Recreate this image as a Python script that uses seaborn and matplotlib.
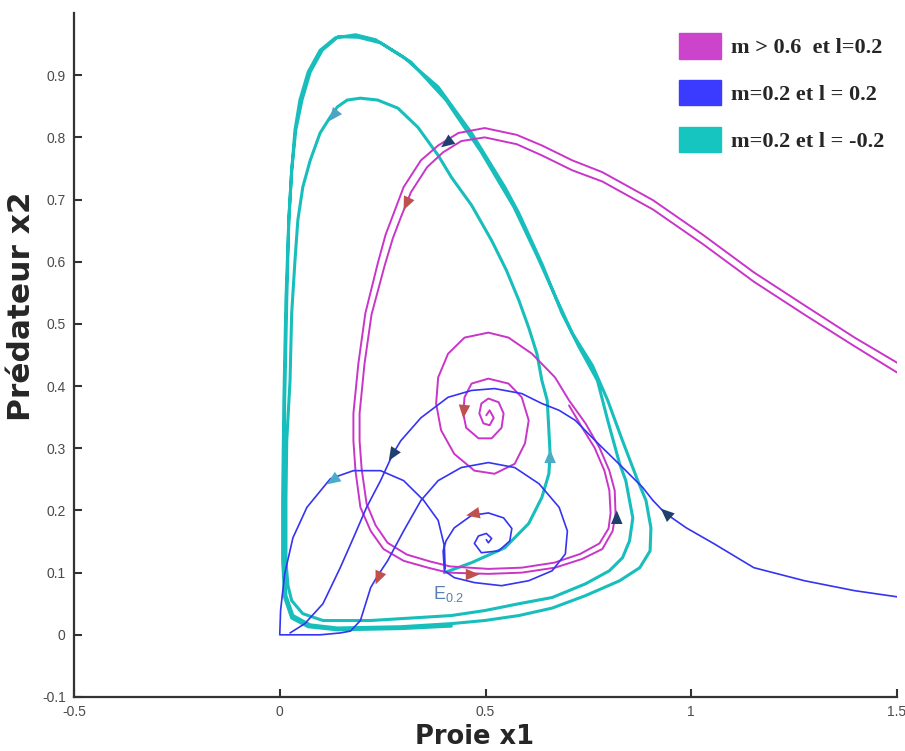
import matplotlib
matplotlib.use("Agg")
import matplotlib.pyplot as plt
import seaborn as sns
from matplotlib.patches import Patch

# --- data (x1 = proie, x2 = predateur) ---
mag_out_x = [1.512, 1.397, 1.275, 1.152, 1.029, 0.907, 0.784, 0.711, 0.637, 0.576, 0.498, 0.434, 0.385, 0.343,
             0.301, 0.277, 0.257, 0.238, 0.208, 0.191, 0.179, 0.179, 0.184, 0.196, 0.221, 0.252, 0.301, 0.360,
             0.409, 0.507, 0.588, 0.669, 0.735, 0.784, 0.809, 0.816, 0.814, 0.801, 0.777, 0.743, 0.703, 0.669,
             0.613, 0.556, 0.507, 0.449, 0.409, 0.385, 0.380, 0.392, 0.424, 0.473, 0.522, 0.571, 0.596, 0.605,
             0.588, 0.556, 0.507, 0.466, 0.449, 0.446, 0.453, 0.483, 0.515, 0.539, 0.544, 0.532, 0.507, 0.490,
             0.485, 0.495, 0.510, 0.520, 0.510, 0.502]
mag_out_y = [0.433, 0.478, 0.530, 0.583, 0.643, 0.699, 0.744, 0.763, 0.787, 0.804, 0.815, 0.807, 0.787, 0.763,
             0.720, 0.678, 0.643, 0.597, 0.517, 0.436, 0.356, 0.312, 0.264, 0.205, 0.167, 0.138, 0.119, 0.108,
             0.100, 0.098, 0.100, 0.108, 0.122, 0.138, 0.167, 0.195, 0.232, 0.264, 0.301, 0.340, 0.377, 0.414,
             0.452, 0.478, 0.486, 0.478, 0.452, 0.414, 0.372, 0.329, 0.291, 0.264, 0.259, 0.275, 0.308, 0.345,
             0.382, 0.404, 0.412, 0.404, 0.382, 0.356, 0.333, 0.316, 0.316, 0.333, 0.356, 0.374, 0.380, 0.372,
             0.356, 0.340, 0.337, 0.349, 0.361, 0.353]

mag_in_x = [1.512, 1.397, 1.275, 1.152, 1.029, 0.907, 0.784, 0.711, 0.637, 0.576, 0.498, 0.441, 0.397, 0.358,
            0.319, 0.294, 0.275, 0.255, 0.223, 0.206, 0.194, 0.194, 0.199, 0.211, 0.233, 0.262, 0.309, 0.365,
            0.414, 0.507, 0.588, 0.667, 0.730, 0.777, 0.799, 0.804, 0.801, 0.789, 0.765, 0.735, 0.703]
mag_in_y = [0.417, 0.464, 0.515, 0.568, 0.628, 0.684, 0.729, 0.747, 0.771, 0.789, 0.800, 0.794, 0.776, 0.752,
            0.712, 0.671, 0.638, 0.594, 0.515, 0.436, 0.356, 0.312, 0.267, 0.211, 0.176, 0.148, 0.129, 0.118,
            0.110, 0.106, 0.108, 0.116, 0.130, 0.147, 0.171, 0.196, 0.232, 0.264, 0.301, 0.333, 0.369]

blue_a_x = [1.512, 1.397, 1.275, 1.152, 1.054, 0.988, 0.936, 0.907, 0.882, 0.841, 0.767, 0.718, 0.679, 0.637,
            0.588, 0.522, 0.466, 0.409, 0.343, 0.294, 0.275, 0.245, 0.211, 0.179, 0.147, 0.105, 0.061, 0.025]
blue_a_y = [0.060, 0.071, 0.087, 0.108, 0.147, 0.172, 0.196, 0.216, 0.237, 0.264, 0.312, 0.345, 0.361, 0.372,
            0.388, 0.396, 0.393, 0.382, 0.349, 0.312, 0.291, 0.248, 0.205, 0.156, 0.108, 0.050, 0.018, 0.003]

blue_b_x = [0.402, 0.400, 0.385, 0.350, 0.301, 0.245, 0.179, 0.123, 0.066, 0.032, 0.012, 0.002, 0.000, 0.025,
            0.098, 0.147, 0.172, 0.196, 0.221, 0.238, 0.262, 0.301, 0.343, 0.385, 0.441, 0.507, 0.571, 0.630,
            0.679, 0.699, 0.694, 0.662, 0.605, 0.539, 0.473, 0.424, 0.400, 0.397, 0.404, 0.424, 0.466, 0.507,
            0.544, 0.564, 0.559, 0.532, 0.490, 0.473, 0.483, 0.502, 0.515, 0.507, 0.502]
blue_b_y = [0.106, 0.143, 0.184, 0.216, 0.248, 0.264, 0.264, 0.251, 0.205, 0.156, 0.098, 0.039, 0.000, 0.000,
            0.000, 0.003, 0.006, 0.023, 0.076, 0.095, 0.119, 0.167, 0.216, 0.248, 0.269, 0.277, 0.269, 0.243,
            0.205, 0.167, 0.130, 0.103, 0.087, 0.079, 0.084, 0.092, 0.103, 0.135, 0.151, 0.172, 0.192, 0.196,
            0.188, 0.171, 0.151, 0.135, 0.132, 0.147, 0.159, 0.163, 0.155, 0.148, 0.153]

teal_x = [0.400, 0.466, 0.547, 0.605, 0.637, 0.654, 0.657, 0.654, 0.650, 0.637, 0.625, 0.605, 0.581, 0.551,
          0.515, 0.466, 0.417, 0.385, 0.336, 0.287, 0.238, 0.196, 0.164, 0.140, 0.123, 0.098, 0.074, 0.056,
          0.044, 0.037, 0.029, 0.025, 0.017, 0.015, 0.015, 0.020, 0.029, 0.056, 0.105, 0.221, 0.417, 0.498,
          0.581, 0.662, 0.743, 0.801, 0.833, 0.850, 0.858, 0.850, 0.841, 0.826, 0.797, 0.772, 0.728, 0.686,
          0.637, 0.581, 0.547, 0.466, 0.385, 0.301, 0.233, 0.184, 0.135, 0.098, 0.069, 0.049, 0.037, 0.029,
          0.022, 0.017, 0.012, 0.010, 0.010, 0.015, 0.032, 0.074, 0.140, 0.294, 0.417, 0.498, 0.581, 0.662,
          0.743, 0.826, 0.875, 0.900, 0.902, 0.890, 0.870, 0.833, 0.797, 0.760, 0.711, 0.674, 0.625, 0.569,
          0.490, 0.404, 0.319, 0.245, 0.191, 0.142, 0.103, 0.074, 0.054, 0.039, 0.029, 0.022, 0.015, 0.010,
          0.007, 0.007, 0.012, 0.029, 0.069, 0.140, 0.294, 0.417]
teal_y = [0.100, 0.116, 0.140, 0.179, 0.221, 0.259, 0.291, 0.329, 0.377, 0.409, 0.452, 0.494, 0.538, 0.586,
          0.634, 0.691, 0.736, 0.771, 0.816, 0.847, 0.860, 0.863, 0.860, 0.849, 0.833, 0.807, 0.763, 0.720,
          0.667, 0.602, 0.517, 0.409, 0.312, 0.216, 0.119, 0.079, 0.055, 0.034, 0.023, 0.023, 0.031, 0.039,
          0.050, 0.060, 0.082, 0.103, 0.124, 0.151, 0.188, 0.216, 0.248, 0.275, 0.345, 0.409, 0.462, 0.517,
          0.597, 0.678, 0.720, 0.807, 0.881, 0.929, 0.957, 0.965, 0.960, 0.940, 0.905, 0.860, 0.812, 0.747,
          0.667, 0.538, 0.377, 0.216, 0.119, 0.063, 0.031, 0.016, 0.011, 0.013, 0.018, 0.023, 0.031, 0.043,
          0.063, 0.087, 0.108, 0.135, 0.172, 0.216, 0.248, 0.312, 0.377, 0.433, 0.485, 0.538, 0.610, 0.688,
          0.776, 0.860, 0.921, 0.952, 0.961, 0.962, 0.940, 0.905, 0.860, 0.812, 0.747, 0.667, 0.538, 0.377,
          0.216, 0.119, 0.060, 0.027, 0.013, 0.008, 0.010, 0.014]

# direction arrows: a point just behind the head (x0, y0) -> arrow tip (x1, y1)
arr_x0 = [0.145, 0.422, 0.314, 0.449, 0.451, 0.819, 0.284, 0.145, 0.657, 0.483, 0.245, 0.951]
arr_y0 = [0.847, 0.799, 0.702, 0.370, 0.097, 0.177, 0.300, 0.256, 0.275, 0.196, 0.100, 0.188]
arr_x1 = [0.120, 0.392, 0.301, 0.446, 0.485, 0.819, 0.265, 0.115, 0.657, 0.453, 0.233, 0.926]
arr_y1 = [0.826, 0.784, 0.683, 0.348, 0.097, 0.200, 0.280, 0.242, 0.298, 0.192, 0.081, 0.203]
arr_col = ['#4BA3C6', '#1F3F6E', '#C0504D', '#C0504D', '#C0504D', '#1F3F6E',
           '#1F3F6E', '#4BACC6', '#4BACC6', '#C0504D', '#C0504D', '#1F3F6E']

legend_labels = ['m > 0.6  et l=0.2', 'm=0.2 et l = 0.2', 'm=0.2 et l = -0.2']
legend_colors = ['#CC44CC', '#3B3BFF', '#16C4C0']

x_ticks = [-0.5, 0, 0.5, 1, 1.5]
x_ticklabels = ['-0.5', '0', '0.5', '1', '1.5']
y_ticks = [-0.1, 0, 0.1, 0.2, 0.3, 0.4, 0.5, 0.6, 0.7, 0.8, 0.9]
y_ticklabels = ['-0.1', '0', '0.1', '0.2', '0.3', '0.4', '0.5', '0.6', '0.7', '0.8', '0.9']

sns.set_style('ticks')
plt.rcParams['font.family'] = ['Liberation Sans', 'DejaVu Sans']

fig = plt.figure(figsize=(9.05, 7.51), dpi=100)
ax = fig.add_axes([74 / 905, 54 / 751, 823 / 905, 684 / 751])

mag = '#C935C9'
blu = '#3434F2'
tea = '#17BEBB'

sns.lineplot(x=teal_x, y=teal_y, sort=False, estimator=None, color=tea, lw=2.2, ax=ax)
sns.lineplot(x=mag_out_x, y=mag_out_y, sort=False, estimator=None, color=mag, lw=1.4, ax=ax)
sns.lineplot(x=mag_in_x, y=mag_in_y, sort=False, estimator=None, color=mag, lw=1.4, ax=ax)
sns.lineplot(x=blue_a_x, y=blue_a_y, sort=False, estimator=None, color=blu, lw=1.2, ax=ax)
sns.lineplot(x=blue_b_x, y=blue_b_y, sort=False, estimator=None, color=blu, lw=1.2, ax=ax)

# filled heads only: the invisible shaft is made longer than the head
for x0, y0, x1, y1, c in zip(arr_x0, arr_y0, arr_x1, arr_y1, arr_col):
    tail = (x1 + 2.5 * (x0 - x1), y1 + 2.5 * (y0 - y1))
    ax.annotate('', xy=(x1, y1), xytext=tail,
                arrowprops=dict(arrowstyle='-|>,head_length=0.75,head_width=0.32',
                                facecolor=c, edgecolor='none', lw=0,
                                shrinkA=0, shrinkB=0, mutation_scale=13))

ax.text(0.373, 0.066, r'$\mathregular{E_{0.2}}$', color='#5B7FB5', fontsize=13,
        ha='left', va='center')

ax.set_xlim(-0.5, 1.5)
ax.set_ylim(-0.1, 1.0)
ax.set_xticks(x_ticks)
ax.set_xticklabels(x_ticklabels)
ax.set_yticks(y_ticks)
ax.set_yticklabels(y_ticklabels)
ax.tick_params(direction='in', length=6, width=1.5, colors='#333333', labelsize=10,
               labelcolor='#4A4A4A', pad=6)
sns.despine(ax=ax)
for s in ['left', 'bottom']:
    ax.spines[s].set_linewidth(1.6)
    ax.spines[s].set_color('#333333')
ax.set_xlabel('')
ax.set_ylabel('')

fig.text(474 / 905, 1 - 737 / 751, 'Proie x1', fontsize=18.5, fontweight='bold',
         ha='center', va='center', family=['DejaVu Sans'])
fig.text(22 / 905, 1 - 306 / 751, 'Prédateur x2', fontsize=22.5, fontweight='bold', rotation=90,
         ha='center', va='center', family=['DejaVu Sans'])

handles = [Patch(facecolor=c, edgecolor=c) for c in legend_colors]
leg = ax.legend(handles, legend_labels, loc='upper left',
                bbox_to_anchor=((679 - 74) / 823, (697 - 33) / 684),
                frameon=False, borderpad=0, borderaxespad=0,
                handlelength=1.9, handleheight=1.4, handletextpad=0.45, labelspacing=0.95,
                prop={'family': 'Liberation Serif', 'weight': 'bold', 'size': 16})

fig.savefig('out.png', dpi=100)
